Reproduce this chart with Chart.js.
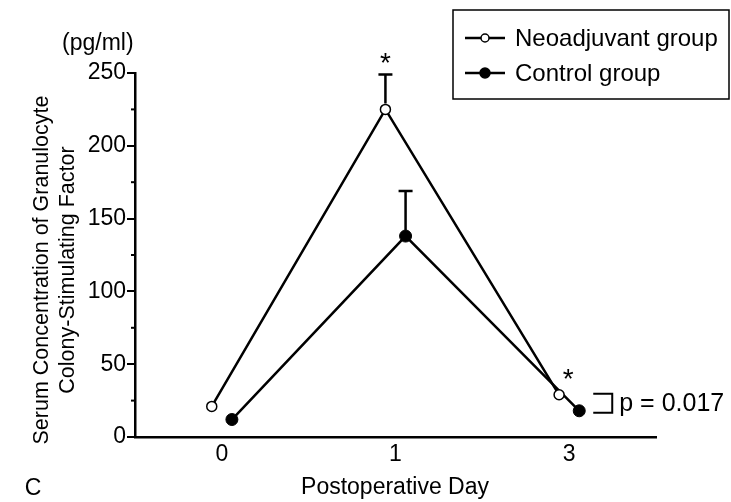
<!DOCTYPE html>
<html>
<head>
<meta charset="utf-8">
<script src="https://cdn.jsdelivr.net/npm/chart.js@4.4.0/dist/chart.umd.min.js"></script>
<style>
  html, body { margin: 0; padding: 0; background: #fff; }
  #wrap { width: 731px; height: 502px; position: relative; }
</style>
</head>
<body>
<div id="wrap"><canvas id="chart" width="731" height="502"></canvas></div>
<script>
// data
const days = ['0', '1', '3'];
const neoadjuvant = [21, 225, 29];
const neoadjuvantErr = [0, 24, 0];
const control = [12, 138, 18];
const controlErr = [0, 31, 0];
const starred = [false, true, true];
const pLabel = 'p = 0.017';

const FONT = '"Liberation Sans", Arial, Helvetica, sans-serif';
const jitter = 0.058; // side-by-side offset of the two groups

function pts(vals, shift) {
  return vals.map((v, i) => ({ x: i + shift, y: v }));
}

const extras = {
  id: 'extras',
  afterDatasetsDraw(chart) {
    const ctx = chart.ctx;
    const xs = chart.scales.x, ys = chart.scales.y;
    const ca = chart.chartArea;
    ctx.save();
    ctx.strokeStyle = '#000';
    ctx.fillStyle = '#000';
    ctx.lineWidth = 2.5;
    // upward error bars
    [[neoadjuvant, neoadjuvantErr, -jitter], [control, controlErr, jitter]].forEach(([vals, errs, sh]) => {
      vals.forEach((v, i) => {
        if (!errs[i]) return;
        const x = xs.getPixelForValue(i + sh);
        const y0 = ys.getPixelForValue(v);
        const y1 = ys.getPixelForValue(v + errs[i]);
        ctx.beginPath();
        ctx.moveTo(x, y0 - 6); ctx.lineTo(x, y1);
        ctx.moveTo(x - 7, y1); ctx.lineTo(x + 7, y1);
        ctx.stroke();
      });
    });
    // significance asterisks
    ctx.font = '28px ' + FONT;
    ctx.textAlign = 'center';
    ctx.textBaseline = 'middle';
    starred.forEach((s, i) => {
      if (!s) return;
      const top = neoadjuvant[i] + neoadjuvantErr[i];
      const x = xs.getPixelForValue(i - jitter) + (i === 2 ? 9 : 0);
      const y = ys.getPixelForValue(top) - (neoadjuvantErr[i] ? 16 : 20);
      ctx.fillText('*', x, y + 6);
    });
    // p-value bracket at last day
    const last = days.length - 1;
    const bx = xs.getPixelForValue(last + jitter) + 14;
    const yA = ys.getPixelForValue(neoadjuvant[last]) - 1;
    const yB = ys.getPixelForValue(control[last]) + 2;
    ctx.lineWidth = 2;
    ctx.beginPath();
    ctx.moveTo(bx, yA); ctx.lineTo(bx + 19, yA); ctx.lineTo(bx + 19, yB); ctx.lineTo(bx, yB);
    ctx.stroke();
    ctx.textAlign = 'left';
    ctx.font = '25px ' + FONT;
    ctx.fillText(pLabel, bx + 26, (yA + yB) / 2 + 1);

    // minor ticks on y
    ctx.lineWidth = 2;
    for (let v = 25; v < 250; v += 50) {
      const y = ys.getPixelForValue(v);
      ctx.beginPath();
      ctx.moveTo(ca.left, y); ctx.lineTo(ca.left - 4, y);
      ctx.stroke();
    }

    // unit + axis titles
    ctx.font = '23px ' + FONT;
    ctx.textAlign = 'left';
    ctx.fillText('(pg/ml)', 62, 44);
    ctx.textAlign = 'center';
    ctx.font = '23px ' + FONT;
    ctx.fillText('Postoperative Day', 395, 488);
    ctx.fillText('C', 33, 489);
    ctx.font = '21.5px ' + FONT;
    ctx.save();
    ctx.translate(55, 270);
    ctx.rotate(-Math.PI / 2);
    ctx.fillText('Serum Concentration of Granulocyte', 0, -13);
    ctx.fillText('Colony-Stimulating Factor', 0, 13);
    ctx.restore();

    // legend box
    const lx = 453, ly = 10, lw = 276, lh = 89;
    ctx.lineWidth = 1.5;
    ctx.strokeRect(lx, ly, lw, lh);
    chart.data.datasets.forEach((ds, k) => {
      const y = ly + 28 + k * 35;
      ctx.lineWidth = 2.5;
      ctx.beginPath();
      ctx.moveTo(lx + 12, y); ctx.lineTo(lx + 52, y);
      ctx.stroke();
      ctx.beginPath();
      ctx.arc(lx + 32, y, ds.pointRadius - 1, 0, Math.PI * 2);
      ctx.fillStyle = ds.pointBackgroundColor;
      ctx.fill();
      ctx.lineWidth = 1.5;
      ctx.stroke();
      ctx.fillStyle = '#000';
      ctx.textAlign = 'left';
      ctx.font = '24px ' + FONT;
      ctx.fillText(ds.label, lx + 62, y + 1);
    });
    ctx.restore();
  }
};

new Chart(document.getElementById('chart'), {
  type: 'line',
  data: {
    datasets: [
      {
        label: 'Neoadjuvant group',
        data: pts(neoadjuvant, -jitter),
        borderColor: '#000',
        borderWidth: 2.5,
        pointRadius: 5,
        pointBackgroundColor: '#fff',
        pointBorderColor: '#000',
        pointBorderWidth: 1.5,
        tension: 0
      },
      {
        label: 'Control group',
        data: pts(control, jitter),
        borderColor: '#000',
        borderWidth: 2.5,
        pointRadius: 6,
        pointBackgroundColor: '#000',
        pointBorderColor: '#000',
        pointBorderWidth: 1,
        tension: 0
      }
    ]
  },
  options: {
    responsive: false,
    animation: false,
    maintainAspectRatio: false,
    layout: { padding: { left: 0, right: 75, top: 73, bottom: 0 } },
    plugins: { legend: { display: false }, tooltip: { enabled: false } },
    scales: {
      x: {
        type: 'linear',
        min: -0.5,
        max: 2.5,
        afterFit(s) { s.height = 65; },
        afterBuildTicks(s) { s.ticks = days.map((d, i) => ({ value: i })); },
        grid: { display: false },
        border: { display: true, color: '#000', width: 2.5 },
        ticks: {
          color: '#000',
          font: { family: FONT, size: 23 },
          padding: -4,
          callback: (v) => days[v]
        }
      },
      y: {
        min: 0,
        max: 250,
        afterFit(s) { s.width = 135; },
        grid: { drawOnChartArea: false, drawTicks: true, tickLength: 8, color: '#000', lineWidth: 2 },
        border: { display: true, color: '#000', width: 2.5 },
        ticks: {
          stepSize: 50,
          color: '#000',
          font: { family: FONT, size: 23 },
          padding: 1
        }
      }
    }
  },
  plugins: [extras]
});
</script>
</body>
</html>
